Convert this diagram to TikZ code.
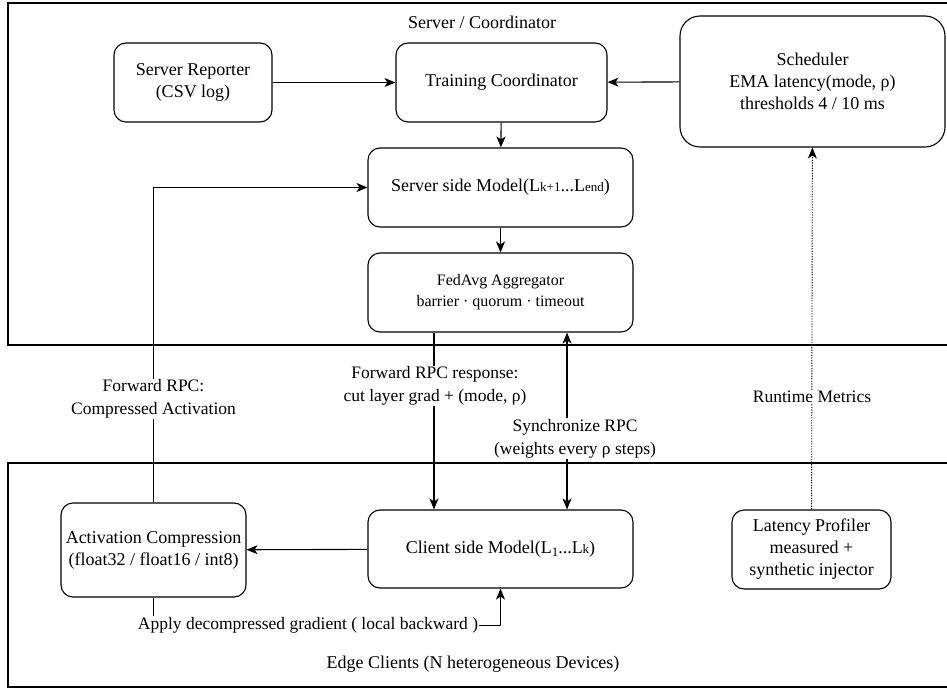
\documentclass[tikz,border=0pt]{standalone}
\usepackage{fontspec}
\setmainfont{Liberation Serif}
\usepackage{tikz}
\usetikzlibrary{arrows.meta,calc,positioning}
\newcommand{\SmallTxt}[1]{{\fontsize{13}{13}\selectfont #1}}
\tikzset{
  zone/.style={draw, line width=1.1pt},
  box/.style={draw, rounded corners=12pt, line width=1.1pt, align=center, inner sep=2pt,
    font=\fontsize{18}{22}\selectfont},
  bigbox/.style={box, rounded corners=20pt},
  zonetitle/.style={font=\fontsize{18}{22}\selectfont},
  lbl/.style={fill=white, align=center, inner sep=1pt, font=\fontsize{17.5}{23}\selectfont},
  tip/.style={Stealth[length=11pt,width=9pt,inset=3pt]},
  flow/.style={-{Stealth[length=11pt,width=9pt,inset=3pt]}, line width=1.1pt},
  sync/.style={{Stealth[length=11pt,width=9pt,inset=3pt]}-{Stealth[length=11pt,width=9pt,inset=3pt]}, line width=1.1pt},
  metric/.style={-{Stealth[length=11pt,width=9pt,inset=3pt]}, line width=0.9pt, dash pattern=on 1.3pt off 1.3pt}
}

\begin{document}
\begin{tikzpicture}[x=1pt, y=-1pt]
  \useasboundingbox (0,0) rectangle (947,688);
  \clip (0,0) rectangle (947,688);
  % Zones
  \draw[zone] (8,3) rectangle (970,345);
  \draw[zone] (8,463) rectangle (970,687);
  \node[zonetitle] (srvtitle) at (482,22) {Server / Coordinator};
  \node[zonetitle] (edgetitle) at (473,664) {Edge Clients (N heterogeneous Devices)};
  % Server side
  \node[box, minimum width=158pt, minimum height=79pt] (reporter) at (193,82.5) {Server Reporter\\(CSV log)};
  \node[box, minimum width=211pt, minimum height=79pt] (coord) at (501.5,82.5) {Training Coordinator};
  \node[bigbox, minimum width=265pt, minimum height=131pt] (sched) at (812.5,81.5)
    {Scheduler\\EMA latency(mode, ρ)\\thresholds 4 / 10 ms};
  \node[box, minimum width=265pt, minimum height=79pt] (srvmodel) at (500.5,187.5)
    {Server side Model(L\SmallTxt{k+1}...L\SmallTxt{end})};
  \node[box, minimum width=265pt, minimum height=79pt, font=\fontsize{16}{21}\selectfont] (fedavg) at (500.5,292.5)
    {FedAvg Aggregator\\barrier · quorum · timeout};
  % Client side
  \node[box, minimum width=265pt, minimum height=78pt] (clmodel) at (500.5,549)
    {Client side Model(L\raisebox{-3pt}{\SmallTxt{1}}...L\SmallTxt{k})};
  \node[box, minimum width=185pt, minimum height=94pt] (actcomp) at (153.5,550)
    {Activation Compression\\(float32 / float16 / int8)};
  \node[box, minimum width=159pt, minimum height=79pt] (profiler) at (811.5,549.5)
    {Latency Profiler\\measured +\\synthetic injector};
  % Connectors
  \draw[flow] (reporter) -- (coord);
  \draw[flow] (sched) -- (coord);
  \draw[flow] (coord) -- (srvmodel);
  \draw[flow] (srvmodel) -- (fedavg);
  \draw[flow] (clmodel) -- (actcomp);
  \draw[flow] (actcomp.north) |- (srvmodel.west);
  \node[lbl] (fwdlbl) at (153.5,399) {Forward RPC:\\Compressed Activation};
  \draw[flow] ($(fedavg.south)!0.5!(fedavg.south west)$) -- ($(clmodel.north)!0.5!(clmodel.north west)$);
  \node[lbl] (resplbl) at (435,386) {Forward RPC response:\\cut layer grad + (mode, ρ)};
  \draw[sync] ($(fedavg.south)!0.5!(fedavg.south east)$) -- ($(clmodel.north)!0.5!(clmodel.north east)$);
  \node[lbl] (synclbl) at (575,438.5) {Synchronize RPC\\(weights every ρ steps)};
  \draw[flow] (actcomp.south) -- ++(0,28) -| (clmodel.south);
  \node[lbl] (gradlbl) at (308,625) {Apply decompressed gradient ( local backward )};
  \draw[metric] (profiler) -- (sched);
  \node[lbl] (metlbl) at (812,397) {Runtime Metrics};
\end{tikzpicture}
\end{document}
